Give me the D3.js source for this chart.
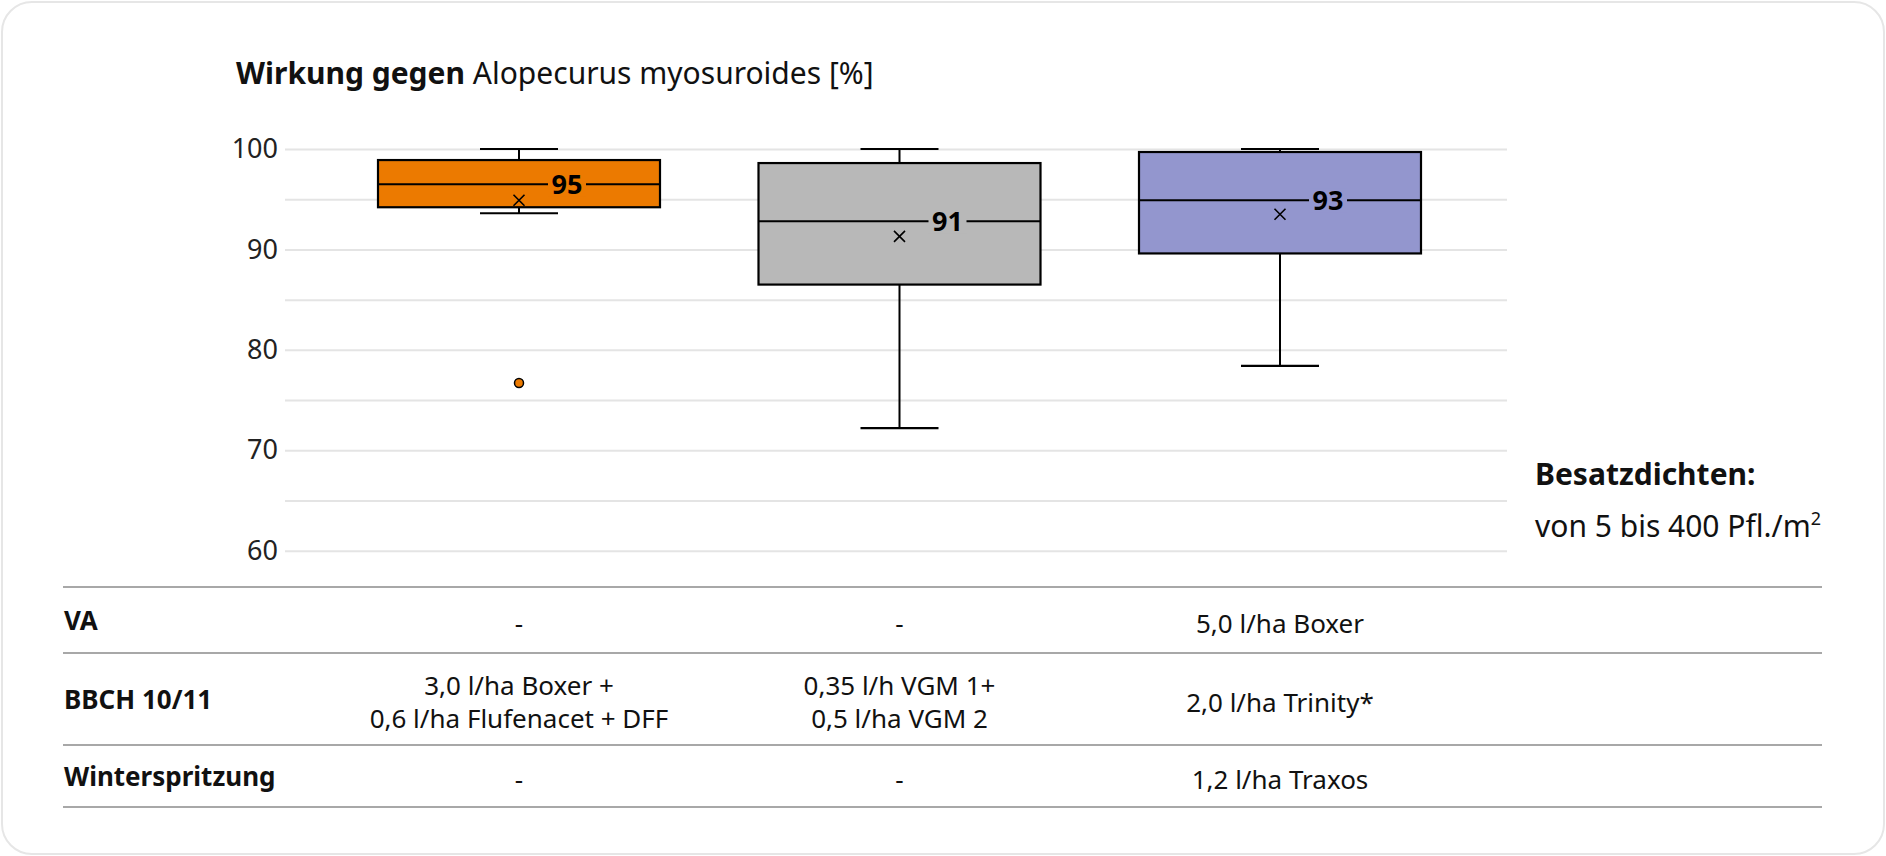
<!DOCTYPE html>
<html>
<head>
<meta charset="utf-8">
<script src="https://cdn.jsdelivr.net/npm/d3@7"></script>
<style>
  html, body { margin: 0; padding: 0; background: #fff; }
  svg { display: block; font-family: "Noto Sans", sans-serif; }
</style>
</head>
<body>
<script>
// Varianten (Spalten der Tabelle)
var variants = ["v1", "v2", "v3"];
var boxColors = ["#ec7a00", "#b8b8b8", "#9396ce"];

// Boxplot-Kennwerte je Variante [%]
var whiskerHigh = [100, 100, 100];
var q3 = [98.9, 98.6, 99.7];
var median = [96.5, 92.8, 94.9];
var q1 = [94.2, 86.5, 89.6];
var whiskerLow = [93.6, 72.2, 78.4];
var mean = [94.9, 91.3, 93.5];
var meanLabels = ["95", "91", "93"];
var outliers = [{ v: 0, value: 76.7 }];

var yTicks = [60, 70, 80, 90, 100];
var yGrid = [60, 65, 70, 75, 80, 85, 90, 95, 100];

// Tabelle unter dem Diagramm
var rowLabels = ["VA", "BBCH 10/11", "Winterspritzung"];
var rowCells = [
  [["-"], ["-"], ["5,0 l/ha Boxer"]],
  [["3,0 l/ha Boxer +", "0,6 l/ha Flufenacet + DFF"], ["0,35 l/h VGM 1+", "0,5 l/ha VGM 2"], ["2,0 l/ha Trinity*"]],
  [["-"], ["-"], ["1,2 l/ha Traxos"]]
];

var width = 1886, height = 856;

var svg = d3.select("body").append("svg")
  .attr("width", width)
  .attr("height", height);

svg.append("rect")
  .attr("x", 2).attr("y", 2)
  .attr("width", width - 4).attr("height", height - 4)
  .attr("rx", 30)
  .attr("fill", "#fff")
  .attr("stroke", "#e6e6e6")
  .attr("stroke-width", 2);

// Titel
var title = svg.append("text")
  .attr("x", 236).attr("y", 84)
  .attr("font-size", 30)
  .attr("fill", "#111");
title.append("tspan").attr("font-weight", "bold").text("Wirkung gegen");
title.append("tspan").text(" Alopecurus myosuroides [%]");

var plotLeft = 285, plotRight = 1507;

var y = d3.scaleLinear().domain([60, 100]).range([550.7, 149]);
var x = d3.scalePoint().domain(variants).range([519, 1280]);
var boxW = 282;

// Gitterlinien
svg.append("g")
  .attr("transform", "translate(" + plotLeft + ",0)")
  .call(d3.axisLeft(y).tickValues(yGrid).tickSize(-(plotRight - plotLeft)).tickFormat(""))
  .call(function(g) {
    g.select(".domain").remove();
    g.selectAll(".tick line").attr("stroke", "#e4e4e4").attr("stroke-width", 2);
  });

// Y-Achse
svg.append("g")
  .attr("transform", "translate(" + 278 + ",0)")
  .call(d3.axisLeft(y).tickValues(yTicks).tickSize(0).tickPadding(0))
  .call(function(g) {
    g.select(".domain").remove();
    g.selectAll(".tick text")
      .attr("font-family", "Noto Sans")
      .attr("font-size", 27)
      .attr("fill", "#222");
  });

var boxes = svg.append("g").selectAll("g")
  .data(variants)
  .enter().append("g");

// Whisker
boxes.append("line")
  .attr("x1", function(d) { return x(d); })
  .attr("x2", function(d) { return x(d); })
  .attr("y1", function(d, i) { return y(whiskerHigh[i]); })
  .attr("y2", function(d, i) { return y(whiskerLow[i]); })
  .attr("stroke", "#000").attr("stroke-width", 2);

boxes.selectAll("line.cap")
  .data(function(d, i) { return [{ d: d, v: whiskerHigh[i] }, { d: d, v: whiskerLow[i] }]; })
  .enter().append("line")
  .attr("class", "cap")
  .attr("x1", function(c) { return x(c.d) - 39; })
  .attr("x2", function(c) { return x(c.d) + 39; })
  .attr("y1", function(c) { return y(c.v); })
  .attr("y2", function(c) { return y(c.v); })
  .attr("stroke", "#000").attr("stroke-width", 2.2);

// Box
boxes.append("rect")
  .attr("x", function(d) { return x(d) - boxW / 2; })
  .attr("y", function(d, i) { return y(q3[i]); })
  .attr("width", boxW)
  .attr("height", function(d, i) { return y(q1[i]) - y(q3[i]); })
  .attr("fill", function(d, i) { return boxColors[i]; })
  .attr("stroke", "#000")
  .attr("stroke-width", 2.2);

// Median
boxes.append("line")
  .attr("x1", function(d) { return x(d) - boxW / 2; })
  .attr("x2", function(d) { return x(d) + boxW / 2; })
  .attr("y1", function(d, i) { return y(median[i]); })
  .attr("y2", function(d, i) { return y(median[i]); })
  .attr("stroke", "#000").attr("stroke-width", 2);

// Mittelwert (x)
boxes.append("path")
  .attr("d", function(d, i) {
    var cx = x(d), cy = y(mean[i]), s = 5.5;
    return "M" + (cx - s) + "," + (cy - s) + "L" + (cx + s) + "," + (cy + s) +
      "M" + (cx - s) + "," + (cy + s) + "L" + (cx + s) + "," + (cy - s);
  })
  .attr("stroke", "#000").attr("stroke-width", 1.6).attr("fill", "none");

// Beschriftung Mittelwert
boxes.append("rect")
  .attr("x", function(d) { return x(d) + 48 - 19; })
  .attr("y", function(d, i) { return y(median[i]) - 12; })
  .attr("width", 38).attr("height", 24)
  .attr("fill", function(d, i) { return boxColors[i]; });

boxes.append("text")
  .attr("x", function(d) { return x(d) + 48; })
  .attr("y", function(d, i) { return y(median[i]) + 10; })
  .attr("text-anchor", "middle")
  .attr("font-weight", "bold")
  .attr("font-size", 27)
  .attr("fill", "#000")
  .text(function(d, i) { return meanLabels[i]; });

// Ausreisser
svg.append("g").selectAll("circle")
  .data(outliers)
  .enter().append("circle")
  .attr("cx", function(o) { return x(variants[o.v]); })
  .attr("cy", function(o) { return y(o.value); })
  .attr("r", 4.5)
  .attr("fill", function(o) { return boxColors[o.v]; })
  .attr("stroke", "#000").attr("stroke-width", 1.5);

// Besatzdichten
svg.append("text")
  .attr("x", 1535).attr("y", 485)
  .attr("font-size", 30).attr("font-weight", "bold").attr("fill", "#111")
  .text("Besatzdichten:");
var dens = svg.append("text")
  .attr("x", 1535).attr("y", 537)
  .attr("font-size", 30).attr("fill", "#111");
dens.append("tspan").text("von 5 bis 400 Pfl./m");
dens.append("tspan").attr("font-size", 18).attr("dy", -12).text("2");

// Tabelle
var tableLines = [587, 653, 745, 807];
var rowCenters = [620, 699, 776];

svg.append("g").selectAll("line")
  .data(tableLines)
  .enter().append("line")
  .attr("x1", 63).attr("x2", 1822)
  .attr("y1", function(d) { return d; })
  .attr("y2", function(d) { return d; })
  .attr("stroke", "#a8a8a8").attr("stroke-width", 2);

svg.append("g").selectAll("text")
  .data(rowLabels)
  .enter().append("text")
  .attr("x", 64)
  .attr("y", function(d, i) { return rowCenters[i] + 9.5; })
  .attr("font-size", 26).attr("font-weight", "bold").attr("fill", "#111")
  .text(function(d) { return d; });

var lineH = 33;
rowCells.forEach(function(cells, r) {
  cells.forEach(function(lines, c) {
    var t = svg.append("text")
      .attr("x", x(variants[c]))
      .attr("y", rowCenters[r] + 9.5 + 3 - (lines.length - 1) * lineH / 2)
      .attr("text-anchor", "middle")
      .attr("font-size", 26).attr("fill", "#111");
    lines.forEach(function(l, k) {
      t.append("tspan")
        .attr("x", x(variants[c]))
        .attr("dy", k === 0 ? 0 : lineH)
        .text(l);
    });
  });
});
</script>
</body>
</html>
